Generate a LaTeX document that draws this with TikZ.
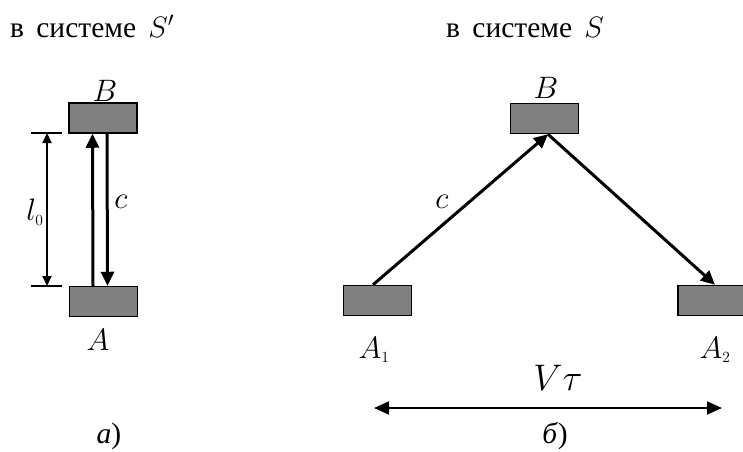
\RequirePackage{fix-cm}
\documentclass[tikz,border=0pt]{standalone}
\usepackage{fontspec}
\setmainfont{Liberation Serif}
\usetikzlibrary{arrows.meta,calc}
\usetikzlibrary{positioning}

\begin{document}
\begin{tikzpicture}[x=1pt,y=-1pt,
  blk/.style={draw,line width=1.5pt,fill=black!50,minimum width=68pt,minimum height=30pt,inner sep=0pt},
  ray/.style={line width=3pt,-{Triangle[length=14pt,width=13pt]}},
  dim/.style={line width=2pt,{Triangle[length=10pt,width=9pt]}-{Triangle[length=10pt,width=9pt]}},
  lbl/.style={inner sep=0pt,font=\fontsize{31}{34}\selectfont},
  hdr/.style={inner sep=0pt,font=\fontsize{29.5}{34}\selectfont},
  big/.style={inner sep=0pt,font=\fontsize{37}{40}\selectfont}]
\useasboundingbox (0,0) rectangle (743,451);
% headers
\node[hdr,anchor=base west] (hdl) at (10,37) {в\, системе\, $S'$};
\node[hdr,anchor=base west] (hdr) at (446,37) {в\, системе\, $S$};
% frame S'
\node[blk] (B0) at (103,118) {};
\node[blk] (A0) at (103.5,301.5) {};
\node[lbl] (nB0) at (105,91) {$B$};
\node[lbl] (nA0) at (98,340) {$A$};
\draw[ray] ([xshift=-10.5]A0.north) -- ([xshift=-10.5]B0.south);
\draw[ray] ([xshift=4]B0.south) -- ([xshift=4]A0.north);
\node[lbl] (c0) at (121,202) {$c$};
% length l0
\coordinate (dt) at (47,133); \coordinate (db) at (47,286);
\draw[line width=1.5pt] ([xshift=-16]dt) -- ([xshift=15]dt);
\draw[line width=1.5pt] ([xshift=-16]db) -- ([xshift=15]db);
\draw[dim] (dt) -- (db);
\node[lbl] (l0) at (35,212) {$l_{\scriptscriptstyle 0}$};
% frame S
\node[blk] (B1) at (544.5,118.5) {};
\node[blk] (A1) at (377.5,300.5) {};
\node[blk] (A2) at (712,300.5) {};
\node[lbl] (nB1) at (546,88) {$B$};
\node[lbl] (nA1) at (374,350) {$A_{\scriptscriptstyle 1}$};
\node[lbl] (nA2) at (715,350) {$A_{\scriptscriptstyle 2}$};
\draw[ray] ([xshift=-4.5]A1.north) -- ([xshift=3.5]B1.south);
\draw[ray] ([xshift=3.5]B1.south) -- ([xshift=3]A2.north);
\node[lbl] (c1) at (442,202) {$c$};
% V tau
\coordinate (vl) at (374,408); \coordinate (vr) at (722,408);
\draw[line width=2pt,{Triangle[length=15pt,width=13pt]}-{Triangle[length=15pt,width=13pt]}] (vl) -- (vr);
\node[big] (vt) at (558,378) {$V\tau$};
% captions
\node[hdr] (capa) at (109,436) {\textit{a})};
\node[hdr] (capb) at (555,436) {\textit{б})};
\end{tikzpicture}
\end{document}
